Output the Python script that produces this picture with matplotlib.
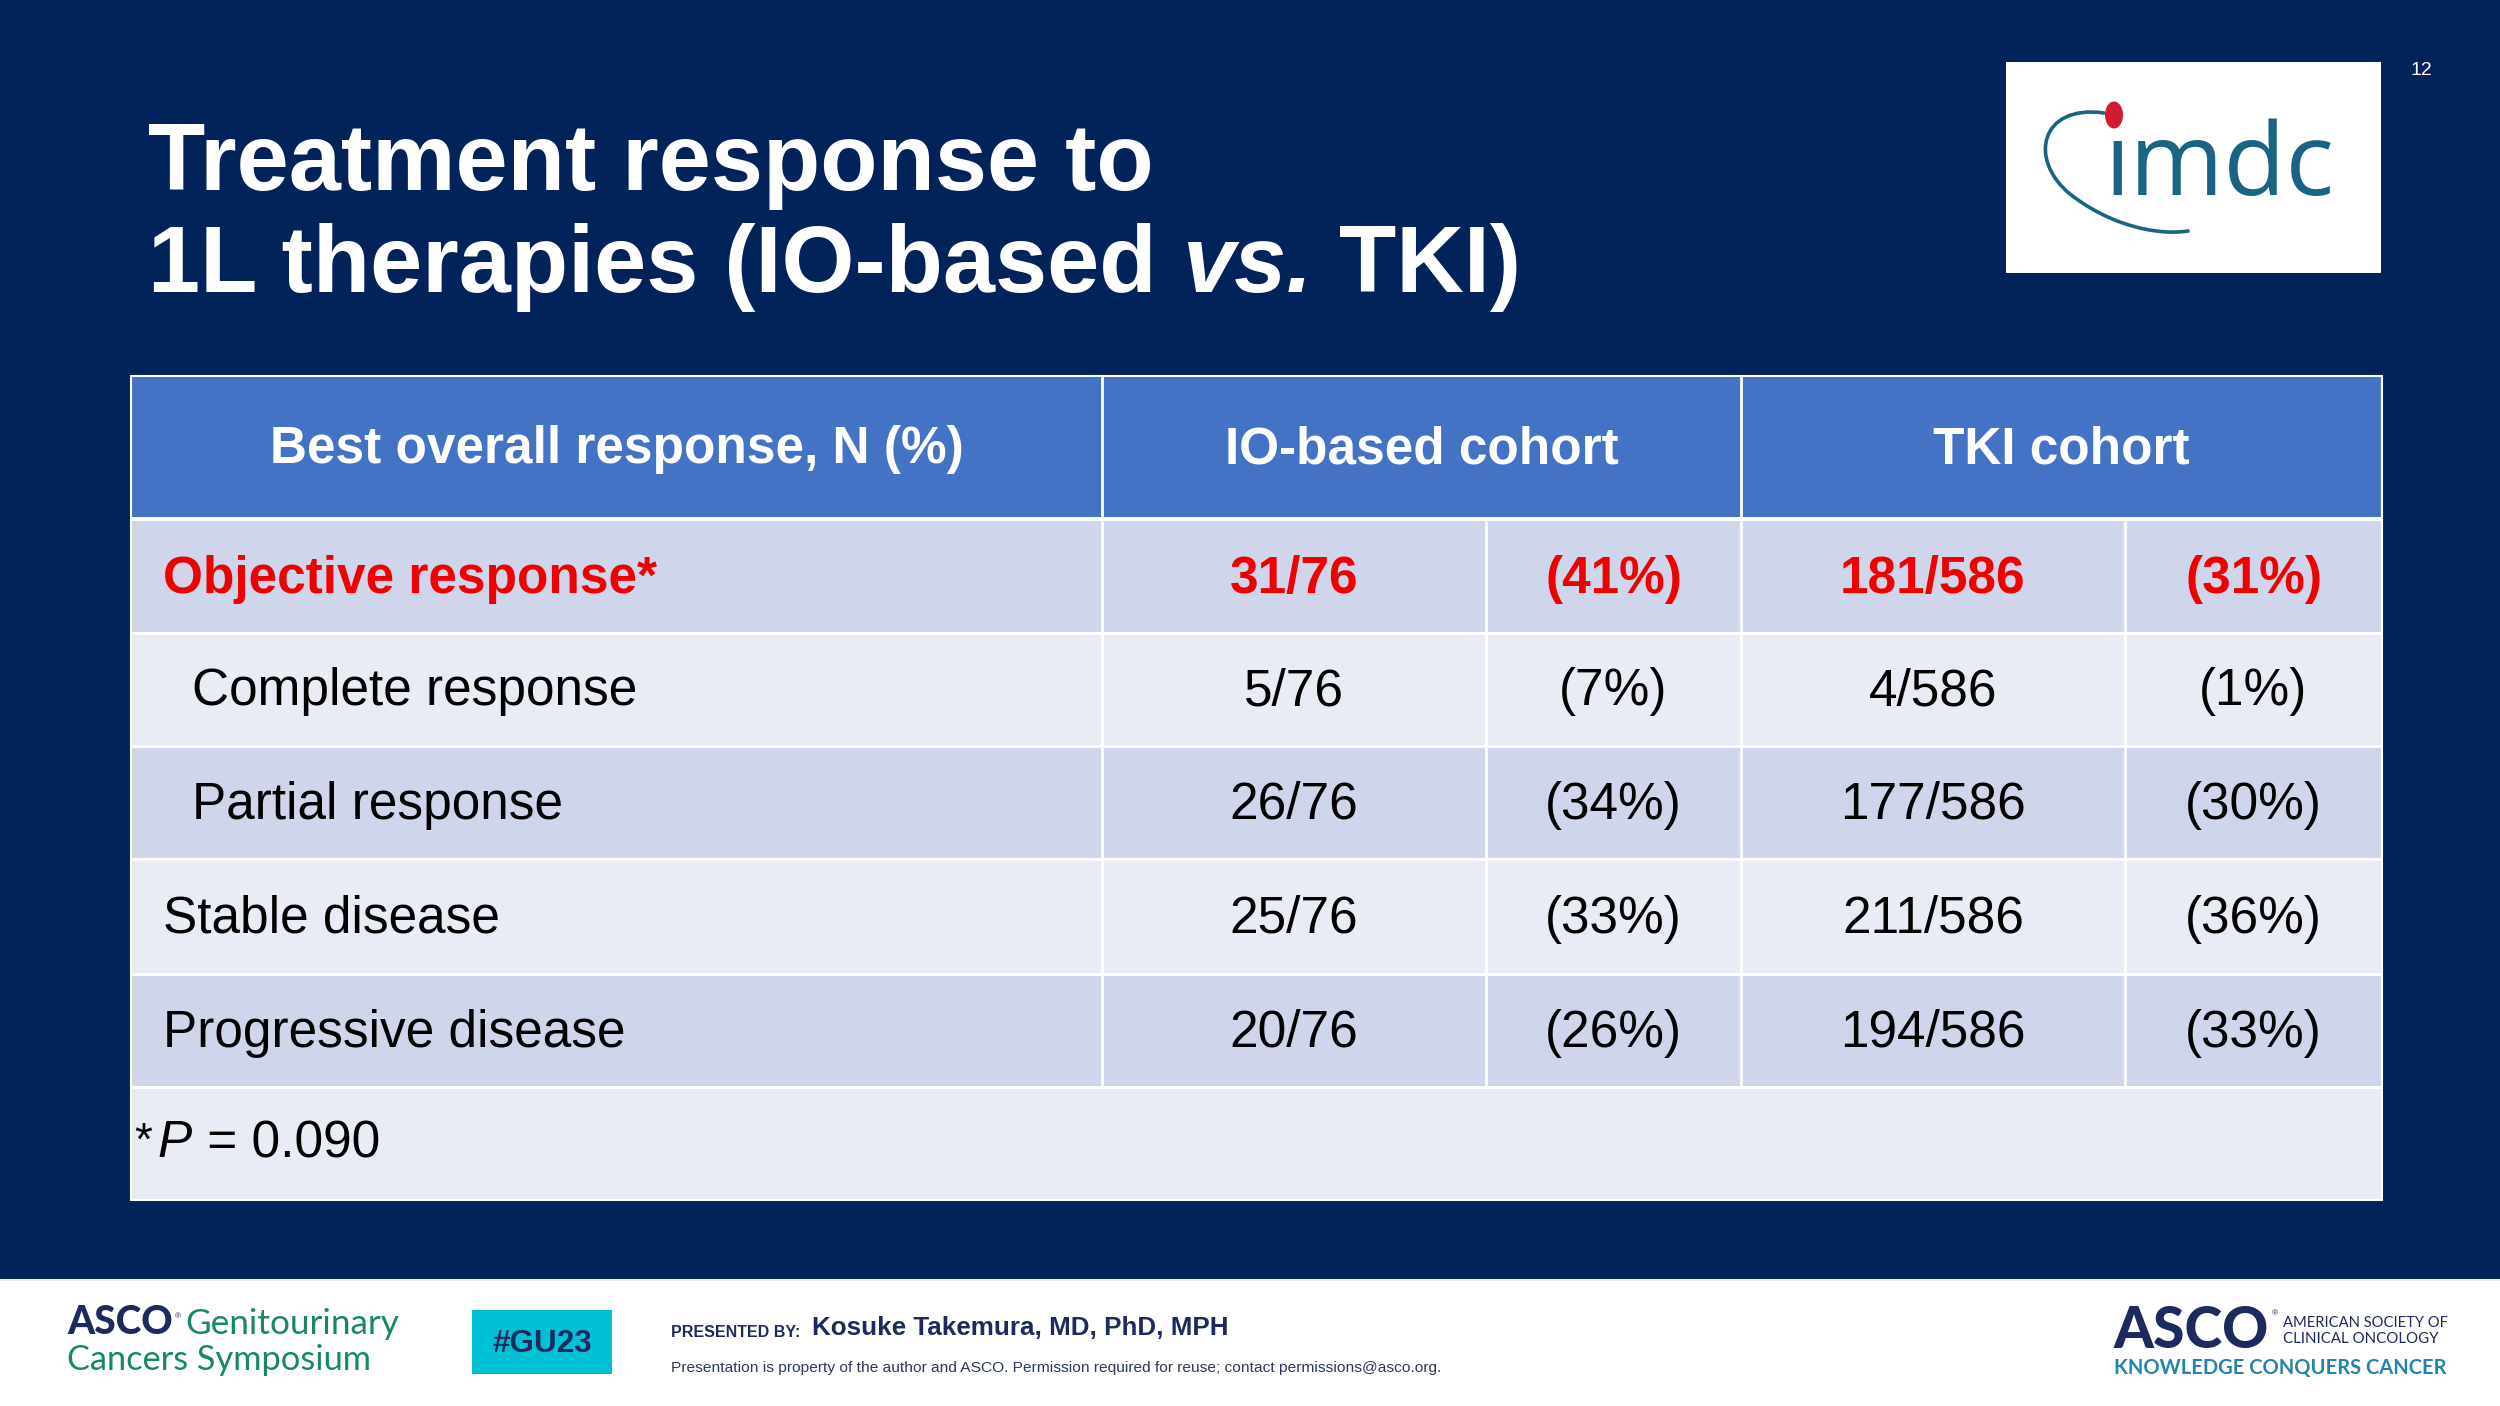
import matplotlib
matplotlib.use("Agg")
import matplotlib.pyplot as plt
from matplotlib import font_manager
from matplotlib.patches import Rectangle, Ellipse, PathPatch
from matplotlib.path import Path

# ---------------- data ----------------
title_line1 = "Treatment response to"
title_line2 = ["1L therapies (IO-based", "vs.", "TKI)"]
col_headers = ["Best overall response, N (%)", "IO-based cohort", "TKI cohort"]
categories = ["Objective response*", "Complete response", "Partial response",
              "Stable disease", "Progressive disease"]
io_counts = [31, 5, 26, 25, 20]
io_total = 76
io_pcts = [41, 7, 34, 33, 26]
tki_counts = [181, 4, 177, 211, 194]
tki_total = 586
tki_pcts = [31, 1, 30, 36, 33]
p_value = "0.090"
slide_number = "12"
presenter = "Kosuke Takemura, MD, PhD, MPH"
disclaimer = ("Presentation is property of the author and ASCO. Permission required "
              "for reuse; contact permissions@asco.org.")

# ---------------- style ----------------
NAVY = "#02225A"
HEAD = "#4472C4"
DARK_ROW = "#CFD5EA"
LIGHT_ROW = "#E9EBF5"
RED = "#F00000"
names = {f.name for f in font_manager.fontManager.ttflist}
SANS = "Liberation Sans"
NARROW = "Liberation Sans Narrow" if "Liberation Sans Narrow" in names else SANS
GEO = "Lato" if "Lato" in names else SANS

W, H = 2500, 1406
fig = plt.figure(figsize=(25, 14.06), dpi=100)
fig.patch.set_facecolor(NAVY)
ax = fig.add_axes([0, 0, 1, 1])
ax.set_xlim(0, W)
ax.set_ylim(H, 0)
ax.axis("off")
renderer = fig.canvas.get_renderer()


def width_of(t):
    return t.get_window_extent(renderer).width


def fit(s, x, y, width, size0=20, **kw):
    t = ax.text(x, y, s, fontsize=size0, **kw)
    t.set_fontsize(size0 * width / width_of(t))
    return t


# ---------------- title ----------------
TFS = 67.5
ax.text(148, 190, title_line1, fontsize=TFS, fontweight="bold", color="white",
        family=SANS, va="baseline", ha="left")
x = 148
t = ax.text(x, 292, title_line2[0], fontsize=TFS, fontweight="bold", color="white",
            family=SANS, va="baseline", ha="left")
space = 0.278 * TFS * 100 / 72
x += width_of(t) + space
t = ax.text(x, 292, title_line2[1], fontsize=TFS, fontweight="bold", style="italic",
            color="white", family=SANS, va="baseline", ha="left")
x += width_of(t) + space
ax.text(x, 292, title_line2[2], fontsize=TFS, fontweight="bold", color="white",
        family=SANS, va="baseline", ha="left")

# slide number
ax.text(2421, 75, slide_number, fontsize=14, color="white", family=SANS,
        ha="center", va="baseline")

# ---------------- imdc logo ----------------
ax.add_patch(Rectangle((2006, 62), 375, 211, facecolor="white", edgecolor="none"))
TEAL = "#1B6382"
fit("\u0131mdc", 2104, 195, 230, size0=60, family="Open Sans", color=TEAL,
    ha="left", va="baseline")
arc = Path([(2104, 113), (2040, 104), (2028, 160), (2070, 194),
            (2108, 224), (2155, 236), (2188, 231)],
           [Path.MOVETO, Path.CURVE4, Path.CURVE4, Path.CURVE4,
            Path.CURVE4, Path.CURVE4, Path.CURVE4])
ax.add_patch(PathPatch(arc, facecolor="none", edgecolor=TEAL, lw=2.6, capstyle="round"))
ax.add_patch(Ellipse((2114, 115), 18, 27, facecolor="#D31A2E", edgecolor="none"))

# ---------------- table ----------------
xs = [131, 1102, 1486, 1741, 2125, 2382]
head_top, head_bot = 376, 517
row_edges = [521, 633, 746, 859, 974, 1087, 1200]

# header
ax.add_patch(Rectangle((xs[0], head_top), xs[-1] - xs[0], head_bot - head_top,
                       facecolor=HEAD, edgecolor="none"))
ax.add_patch(Rectangle((xs[0], head_bot), xs[-1] - xs[0], row_edges[0] - head_bot,
                       facecolor="white", edgecolor="none"))
head_spans = [(xs[0], xs[1]), (xs[1], xs[3]), (xs[3], xs[5])]
for (a, b), s in zip(head_spans, col_headers):
    ax.text((a + b) / 2, (head_top + head_bot) / 2 + 17, s, fontsize=37,
            fontweight="bold", color="white", family=SANS, ha="center", va="baseline")
for xv in (xs[1], xs[3]):
    ax.plot([xv, xv], [head_top, head_bot], color="white", lw=2, solid_capstyle="butt")

# body rows
nrows = len(categories) + 1
for i in range(nrows):
    y0, y1 = row_edges[i], row_edges[i + 1]
    ax.add_patch(Rectangle((xs[0], y0), xs[-1] - xs[0], y1 - y0,
                           facecolor=DARK_ROW if i % 2 == 0 else LIGHT_ROW,
                           edgecolor="none"))

cells = []
for i, cat in enumerate(categories):
    cells.append([f"{io_counts[i]}/{io_total}", f"({io_pcts[i]}%)",
                  f"{tki_counts[i]}/{tki_total}", f"({tki_pcts[i]}%)"])

for i, cat in enumerate(categories):
    y0, y1 = row_edges[i], row_edges[i + 1]
    yb = (y0 + y1) / 2 + 16
    first = i == 0
    color = RED if first else "black"
    weight = "bold" if first else "normal"
    indent = 192 if i in (1, 2) else 163
    ax.text(indent, yb, cat, fontsize=37, fontweight=weight, color=color,
            family=SANS, ha="left", va="baseline")
    for j, s in enumerate(cells[i]):
        ax.text((xs[j + 1] + xs[j + 2]) / 2, yb, s, fontsize=37, fontweight=weight,
                color=color, family=SANS, ha="center", va="baseline")

# grid lines
for yv in row_edges[1:-1]:
    ax.plot([xs[0], xs[-1]], [yv, yv], color="white", lw=2.2, solid_capstyle="butt")
for xv in xs[1:-1]:
    ax.plot([xv, xv], [row_edges[0], row_edges[-2]], color="white", lw=2,
            solid_capstyle="butt")
ax.add_patch(Rectangle((xs[0], head_top), xs[-1] - xs[0], row_edges[-1] - head_top,
                       facecolor="none", edgecolor="white", lw=1.5))

# footnote
fy = 1157
ax.text(134, fy - 2, "*", fontsize=33, color="black", family=SANS, ha="left",
        va="baseline")
t = ax.text(157, fy, "P", fontsize=37, style="italic", color="black", family=SANS,
            ha="left", va="baseline")
ax.text(157 + width_of(t) + 2, fy, " = " + p_value, fontsize=37, color="black",
        family=SANS, ha="left", va="baseline")

# ---------------- footer ----------------
ax.add_patch(Rectangle((0, 1279), W, H - 1279, facecolor="white", edgecolor="none"))
ax.plot([0, W], [1280, 1280], color="#E6ECEF", lw=1.5)

ASCO_NAVY = "#1C2A5E"
GREEN = "#17876A"
fit("ASCO", 67, 1334, 106, size0=24, family=GEO, fontweight="black",
    color=ASCO_NAVY, ha="left", va="baseline")
ax.text(175, 1318, "\u00ae", fontsize=6, family=SANS, color=ASCO_NAVY, ha="left",
        va="baseline")
fit("Genitourinary", 185, 1334, 214, size0=24, family=GEO, fontweight="normal",
    color=GREEN, ha="left", va="baseline")
fit("Cancers Symposium", 67, 1370, 304, size0=24, family=GEO, fontweight="normal",
    color=GREEN, ha="left", va="baseline")

ax.add_patch(Rectangle((472, 1310), 140, 64, facecolor="#00C1D4", edgecolor="none"))
fit("#GU23", 542, 1352, 100, size0=20, family=NARROW, fontweight="bold",
    color=ASCO_NAVY, ha="center", va="baseline")

fit("PRESENTED BY:", 671, 1337, 128, size0=10, family=NARROW, fontweight="bold",
    color=ASCO_NAVY, ha="left", va="baseline")
fit(presenter, 812, 1335, 416, size0=18, family=NARROW, fontweight="bold",
    color=ASCO_NAVY, ha="left", va="baseline")
fit(disclaimer, 671, 1372, 770, size0=10, family=NARROW, color="#2B3A5A",
    ha="left", va="baseline")

fit("ASCO", 2114, 1348, 155, size0=36, family=GEO, fontweight="black",
    color=ASCO_NAVY, ha="left", va="baseline")
ax.text(2272, 1315, "\u00ae", fontsize=6, family=SANS, color=ASCO_NAVY, ha="left",
        va="baseline")
fit("AMERICAN SOCIETY OF", 2283, 1327, 163, size0=10, family=GEO,
    color=ASCO_NAVY, ha="left", va="baseline")
fit("CLINICAL ONCOLOGY", 2283, 1343, 153, size0=10, family=GEO,
    color=ASCO_NAVY, ha="left", va="baseline")
fit("KNOWLEDGE CONQUERS CANCER", 2114, 1374, 332, size0=12, family=GEO,
    fontweight="bold", color="#2283AE", ha="left", va="baseline")

fig.savefig("out.png", dpi=100, facecolor=NAVY)
